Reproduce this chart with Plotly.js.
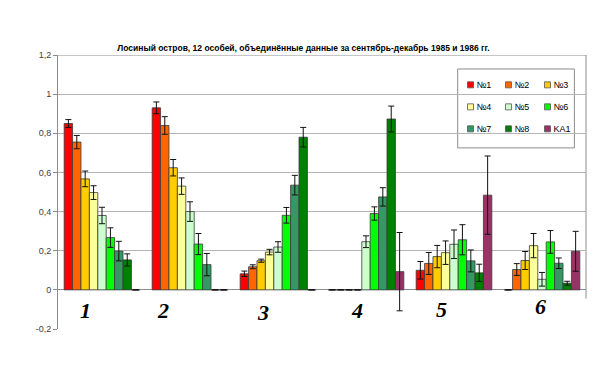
<!DOCTYPE html>
<html>
<head>
<meta charset="utf-8">
<script src="https://cdn.plot.ly/plotly-3.0.1.min.js"></script>
<style>
html,body{margin:0;padding:0;background:#fff;}
#chart{width:607px;height:392px;}
#chart .legendtext, #chart .legend2text, #chart .legend3text{transform:translate(-14px,0);}
</style>
</head>
<body>
<div id="chart"></div>
<script>
// Categories (groups)
const categories = ['1', '2', '3', '4', '5', '6'];
// Series names
const seriesNames = ['№1', '№2', '№3', '№4', '№5', '№6', '№7', '№8', 'KA1'];
// Series values
const s1 = [0.85, 0.93, 0.082, 0, 0.10, 0];
const s2 = [0.755, 0.84, 0.118, 0, 0.135, 0.104];
const s3 = [0.567, 0.624, 0.149, 0, 0.17, 0.15];
const s4 = [0.497, 0.53, 0.193, 0, 0.19, 0.226];
const s5 = [0.38, 0.40, 0.219, 0.246, 0.233, 0.054];
const s6 = [0.267, 0.234, 0.381, 0.39, 0.256, 0.245];
const s7 = [0.198, 0.129, 0.535, 0.475, 0.148, 0.136];
const s8 = [0.153, 0, 0.78, 0.873, 0.087, 0.034];
const ka1 = [0, 0, 0, 0.093, 0.484, 0.197];
// Error values (symmetric)
const e1 = [0.02, 0.03, 0.014, 0, 0.045, 0];
const e2 = [0.034, 0.045, 0.01, 0, 0.056, 0.03];
const e3 = [0.04, 0.042, 0.008, 0, 0.057, 0.046];
const e4 = [0.035, 0.042, 0.014, 0, 0.06, 0.062];
const e5 = [0.042, 0.05, 0.027, 0.03, 0.073, 0.035];
const e6 = [0.05, 0.054, 0.04, 0.034, 0.077, 0.058];
const e7 = [0.05, 0.057, 0.05, 0.047, 0.056, 0.027];
const e8 = [0.031, 0, 0.05, 0.066, 0.044, 0.01];
const eka1 = [0, 0, 0, 0.2, 0.2, 0.102];
// Y tick values and labels
const yTickVals = [-0.2, 0, 0.2, 0.4, 0.6, 0.8, 1, 1.2];
const yTickText = ['-0,2', '0', '0,2', '0,4', '0,6', '0,8', '1', '1,2'];
// Group labels
const groupLabels = ['1', '2', '3', '4', '5', '6'];
const titleText = 'Лосиный остров, 12 особей, объединённые данные за сентябрь-декабрь 1985 и 1986 гг.';

const values = [s1, s2, s3, s4, s5, s6, s7, s8, ka1];
const errors = [e1, e2, e3, e4, e5, e6, e7, e8, eka1];
const colors = ['#FF0000', '#FF6600', '#FFCC00', '#FFFF99', '#CCFFCC', '#00FF00', '#339966', '#008000', '#993366'];
const legendOf = ['legend', 'legend2', 'legend3', 'legend', 'legend2', 'legend3', 'legend', 'legend2', 'legend3'];

const traces = [];
values.forEach((v, i) => {
  traces.push({
    type: 'bar', x: categories, y: v, name: seriesNames[i], showlegend: false,
    marker: {color: colors[i], line: {color: '#3a3a3a', width: 0.8}},
    error_y: {type: 'data', array: errors[i], visible: true, color: '#111', thickness: 1, width: 3},
    hoverinfo: 'skip'
  });
});
// legend-only entries (no visible marks)
seriesNames.forEach((n, i) => {
  traces.push({
    type: 'scatter', mode: 'markers', x: [categories[0]], y: [null], name: n,
    legend: legendOf[i], legendgroup: n, showlegend: true,
    marker: {symbol: 'square', size: 6, color: colors[i], line: {color: '#555', width: 0.8}},
    hoverinfo: 'skip'
  });
});

const xShift = [-17, -27, -15, -9, -13, -2];
const yShift = [0, 0, -2, 0, 1, 4];
const annotations = groupLabels.map((t, i) => ({
  x: i, y: -0.107, xref: 'x', yref: 'y', text: t, showarrow: false,
  xshift: xShift[i], yshift: yShift[i], xanchor: 'center', yanchor: 'middle',
  font: {family: 'Liberation Serif, Times New Roman, serif', size: 22, color: '#000', weight: 'bold', style: 'italic'}
}));

const legendFont = {family: 'Liberation Sans, Arial, sans-serif', size: 9, color: '#000'};
const legendBase = {font: legendFont, bgcolor: 'rgba(0,0,0,0)', borderwidth: 0, orientation: 'v',
  tracegroupgap: 3, itemwidth: 30, xanchor: 'left', yanchor: 'top', y: 0.944};

const layout = {
  width: 607, height: 392,
  margin: {l: 58, r: 21, t: 55, b: 63},
  paper_bgcolor: '#fff', plot_bgcolor: '#fff',
  separators: ', ',
  font: {family: 'Liberation Sans, Arial, sans-serif', size: 9, color: '#333'},
  title: {text: '<b>' + titleText + '</b>', x: 0.5, xref: 'container', y: 1 - 48 / 392, yref: 'container',
    xanchor: 'center', yanchor: 'middle', font: {size: 8.5, color: '#000', family: 'Liberation Sans, Arial, sans-serif'}},
  barmode: 'group', bargap: 0.14, bargroupgap: 0,
  xaxis: {type: 'category', categoryorder: 'array', categoryarray: categories, range: [-0.5, 5.5],
    showticklabels: false, showgrid: false, zeroline: false, showline: false, ticks: '', fixedrange: true},
  yaxis: {range: [-0.2, 1.2], tickvals: yTickVals, ticktext: yTickText, showgrid: true, gridcolor: '#b4b4b4', gridwidth: 1,
    zeroline: true, zerolinecolor: '#8c8c8c', zerolinewidth: 1,
    showline: true, linecolor: '#8c8c8c', linewidth: 1, ticks: 'outside', ticklen: 4, tickcolor: '#8c8c8c',
    tickfont: {size: 9, color: '#404040'}, fixedrange: true},
  legend: Object.assign({}, legendBase, {x: 0.7434}),
  legend2: Object.assign({}, legendBase, {x: 0.8153}),
  legend3: Object.assign({}, legendBase, {x: 0.8892}),
  shapes: [
    {type: 'rect', xref: 'paper', yref: 'y', x0: 0.003, x1: 1.01, y0: -0.2, y1: -0.004, fillcolor: '#fff', line: {width: 0}, layer: 'between'},
    {type: 'line', xref: 'paper', yref: 'y', x0: 1, x1: 1, y0: -0.045, y1: 1.2, line: {color: '#8c8c8c', width: 1}, layer: 'between'},
    {type: 'line', xref: 'paper', yref: 'y', x0: 0, x1: 1, y0: 1.2, y1: 1.2, line: {color: '#8c8c8c', width: 1}, layer: 'between'},
    {type: 'rect', xref: 'paper', yref: 'paper', x0: 0.757, x1: 0.978, y0: 0.661, y1: 0.949, fillcolor: '#fff', line: {color: '#8c8c8c', width: 1}, layer: 'between'}
  ],
  annotations: annotations
};

Plotly.newPlot('chart', traces, layout, {displayModeBar: false, staticPlot: true});
</script>
</body>
</html>
